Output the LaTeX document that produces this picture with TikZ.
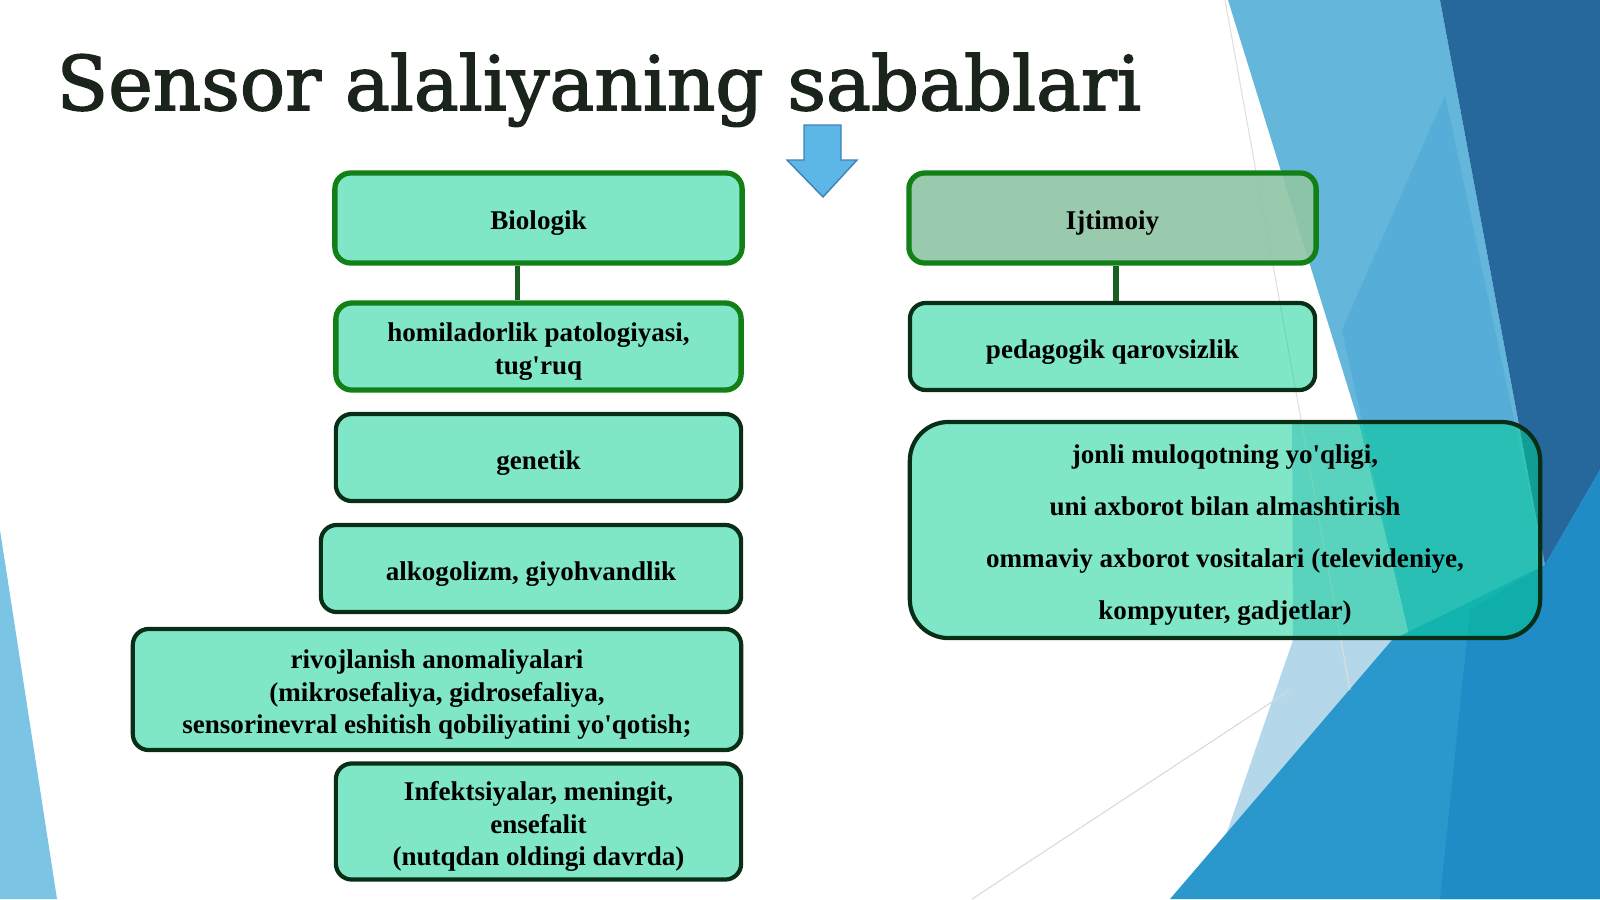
\documentclass[tikz,border=0pt]{standalone}
\usepackage{fontspec}
\setmainfont{Liberation Serif}
\newfontfamily\boxfont{Liberation Serif}
\newfontfamily\titlefont{DejaVu Serif}[BoldFont={DejaVu Serif}, BoldFeatures={FakeBold=2}]

\definecolor{titlegreen}{RGB}{26,36,26}
\definecolor{boxfill}{RGB}{0,208,146}
\definecolor{socfill}{RGB}{144,198,166}
\definecolor{greenline}{RGB}{18,128,22}
\definecolor{darkline}{RGB}{8,46,22}
\definecolor{linkgreen}{RGB}{22,96,34}
\definecolor{arrowblue}{RGB}{92,182,230}
\definecolor{arrowedge}{RGB}{64,130,182}
\definecolor{skylight}{RGB}{100,182,218}
\definecolor{skymid}{RGB}{86,174,216}
\definecolor{navyband}{RGB}{38,104,156}
\definecolor{seablue}{RGB}{42,152,204}
\definecolor{seadeep}{RGB}{32,140,198}
\definecolor{paleband}{RGB}{180,216,234}
\definecolor{leftblue}{RGB}{124,196,228}

% struts that set the text a little lower in its box
\newcommand\toplift{\rule{0pt}{8.6pt}}
\newcommand\botlift{\rule[-2pt]{0pt}{0pt}}

\begin{document}
\begin{tikzpicture}[x=0.01cm, y=-0.01cm,
        box/.style={rounded corners=4.5pt, fill=boxfill, fill opacity=0.5, text opacity=1,
                align=center, inner sep=2pt, text=black,
                font=\boxfont\bfseries\fontsize{7.7}{9.2}\selectfont},
        greenbox/.style={box, draw=greenline, line width=1.5pt},
        darkbox/.style={box, draw=darkline, line width=1.2pt}]
                \useasboundingbox (0,0) rectangle (1600,899);
                % background
                \fill[leftblue] (0,530) -- (57,899) -- (0,899) -- cycle;
                \fill[skylight] (1228,0) -- (1440,0) -- (1545,565) -- (1410,640) -- (1358,420) -- cycle;
                \fill[skymid] (1445,95) -- (1545,565) -- (1410,640) -- (1342,330) -- cycle;
                \fill[paleband] (1292,420) -- (1358,420) -- (1410,640) -- (1226,835) -- (1293,640) -- cycle;
                \fill[navyband] (1440,0) -- (1600,0) -- (1600,470) -- (1545,565) -- cycle;
                \fill[seablue] (1170,899) -- (1392,640) -- (1545,565) -- (1600,470) -- (1600,899) -- cycle;
                \fill[seadeep] (1470,610) -- (1545,565) -- (1600,470) -- (1600,899) -- (1440,899) -- cycle;
                \draw[gray!25, line width=0.3pt] (1225,0) -- (1350,690);
                \draw[gray!30, line width=0.3pt] (972,899) -- (1290,690);

                \node[anchor=base west, inner sep=0pt, text=titlegreen,
                        font=\titlefont\bfseries\fontsize{21.4}{24}\selectfont] (title) at (56,110) {Sensor alaliyaning sabablari};
                \filldraw[fill=arrowblue, draw=arrowedge, line width=0.4pt]
                        (804,125) -- (841,125) -- (841,160) -- (857,160) -- (823,197) -- (787,160) -- (804,160) -- cycle;

                \begin{scope}[every node/.style={minimum width=4.05cm, minimum height=0.87cm}]
                        \node[greenbox, minimum width=4.07cm, minimum height=0.9cm] (bio) at (538.5,218) {\toplift Biologik\botlift};
                        \node[greenbox] (pregnancy) at (538.5,346.5) {\toplift homiladorlik patologiyasi,\\tug'ruq\botlift};
                        \node[darkbox] (genetic) at (538.5,457.5) {\toplift genetik\botlift};
                        \node[darkbox, minimum width=4.2cm] (alcohol) at (531,568.5) {\toplift alkogolizm, giyohvandlik\botlift};
                        \node[darkbox, minimum width=6.08cm, minimum height=1.21cm] (anomaly) at (437,689.5)
                                {\toplift rivojlanish anomaliyalari\\(mikrosefaliya, gidrosefaliya,\\sensorinevral eshitish qobiliyatini yo'qotish;\botlift};
                        \node[darkbox, minimum height=1.13cm] (infection) at (538.5,821.5)
                                {\toplift Infektsiyalar, meningit,\\ensefalit\\(nutqdan oldingi davrda)\botlift};
                        \node[greenbox, fill=socfill, fill opacity=0.92, minimum width=4.07cm, minimum height=0.9cm] (soc) at (1112.5,218) {\toplift Ijtimoiy\botlift};
                        \node[darkbox] (neglect) at (1112.5,346.5) {\toplift pedagogik qarovsizlik\botlift};
                        \node[darkbox, rounded corners=11pt, minimum width=6.3cm, minimum height=2.16cm,
                                font=\boxfont\bfseries\fontsize{7.7}{14.8}\selectfont] (media) at (1225,530)
                                {\toplift jonli muloqotning yo'qligi,\\uni axborot bilan almashtirish\\ommaviy axborot vositalari (televideniye,\\kompyuter, gadjetlar)\botlift};
                \end{scope}

                \draw[linkgreen, line width=1.7pt] ([xshift=-0.21cm]bio.south) -- ([xshift=-0.21cm]pregnancy.north);
                \draw[linkgreen, line width=1.7pt] ([xshift=0.03cm]soc.south) -- ([xshift=0.03cm]neglect.north);
        \end{tikzpicture}
\end{document}
